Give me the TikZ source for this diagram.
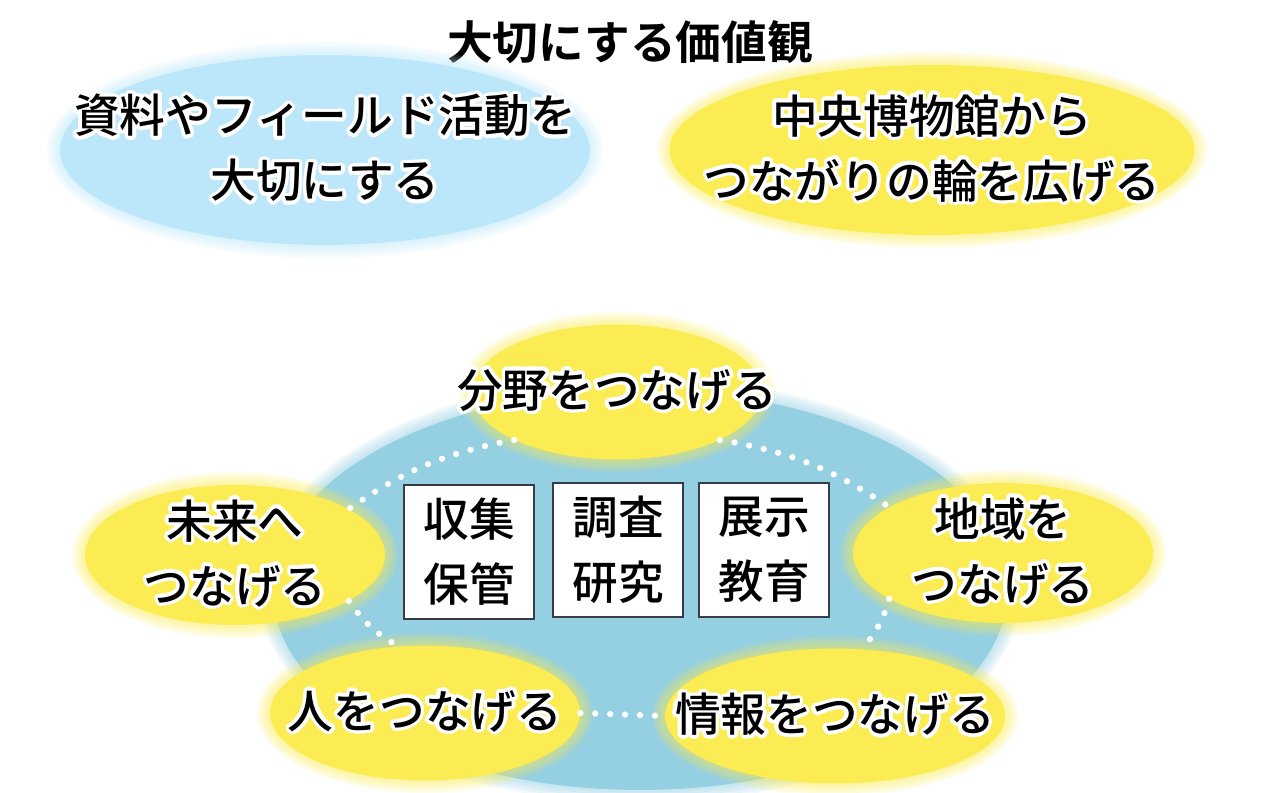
\documentclass[tikz,border=0pt]{standalone}
\usepackage{fontspec}
\setmainfont{Noto Sans CJK JP Medium}
\newfontfamily\heavyjp{Noto Sans CJK JP Bold}
\usepackage{contour}
\contourlength{2pt}
\usetikzlibrary{shapes.geometric,positioning}
\definecolor{skyLight}{RGB}{188,231,250}
\definecolor{skyMid}{RGB}{148,207,226}
\definecolor{sunYellow}{RGB}{250,236,82}
\definecolor{boxEdge}{RGB}{55,60,70}
\newcommand{\gl}[1]{\contour{white}{#1}}
% soft edge under an oval: x, y, x radius, y radius, colour
\newcommand{\softedge}[5]{%
  \foreach \k in {10,8,6,4,2}{\fill[#5,opacity=0.13] (#1,#2) ellipse ({#3+\k*1.3} and {#4+\k*1.3});}}

\begin{document}
\begin{tikzpicture}[x=0.02cm,y=-0.02cm,
  oval/.style={ellipse, inner sep=0pt},
  words/.style={align=center, font=\fontsize{26}{37}\selectfont},
  tile/.style={draw=boxEdge, line width=0.7pt, fill=white, minimum width=2.6cm, minimum height=2.68cm, inner sep=0pt, words},
  dotring/.style={white, line width=3.6pt, line cap=round, dash pattern=on 0pt off 8.5pt}]
\useasboundingbox (0,0) rectangle (1286,793);

% top values
\node[words, font=\heavyjp\fontsize{26}{37}\selectfont] (title) at (630,42) {大切にする価値観};
\softedge{325}{150}{265}{95}{skyLight}
\node[oval, fill=skyLight, minimum width=10.6cm, minimum height=3.8cm] (valueA) at (325,150) {};
\node[words] at (valueA) {\gl{資料やフィールド活動を}\\\gl{大切にする}};
\softedge{932}{150}{262}{85}{sunYellow}
\node[oval, fill=sunYellow, minimum width=10.5cm, minimum height=3.4cm] (valueB) at (932,150) {};
\node[words] at (valueB) {\gl{中央博物館から}\\\gl{つながりの輪を広げる}};

% ring of connections
\softedge{640}{590}{368}{200}{skyMid}
\node[oval, fill=skyMid, minimum width=14.7cm, minimum height=8cm] (hub) at (640,590) {};

\softedge{617}{392}{145}{67}{sunYellow}
\node[oval, fill=sunYellow, minimum width=5.8cm, minimum height=2.7cm] (field) at (617,392) {};
\node[words] at (field) {\gl{分野をつなげる}};
\softedge{235}{555}{150}{70}{sunYellow}
\node[oval, fill=sunYellow, minimum width=6cm, minimum height=2.8cm] (future) at (235,555) {};
\node[words] at (future) {\gl{未来へ}\\\gl{つなげる}};
\softedge{1003}{553}{150}{70}{sunYellow}
\node[oval, fill=sunYellow, minimum width=6cm, minimum height=2.8cm] (region) at (1003,553) {};
\node[words] at (region) {\gl{地域を}\\\gl{つなげる}};
\softedge{425}{713}{155}{67}{sunYellow}
\node[oval, fill=sunYellow, minimum width=6.2cm, minimum height=2.7cm] (people) at (425,713) {};
\node[words] at (people) {\gl{人をつなげる}};
\softedge{835}{716}{170}{67}{sunYellow}
\node[oval, fill=sunYellow, minimum width=6.8cm, minimum height=2.7cm] (info) at (835,716) {};
\node[words] at (info) {\gl{情報をつなげる}};

\draw[dotring] (field.205) to[bend right=12] (future.22);
\draw[dotring] (future.-22) to[bend right=12] (people.112);
\draw[dotring] (field.335) to[bend left=12] (region.158);
\draw[dotring] (region.202) to[bend left=12] (info.68);
\draw[dotring] (people.east) -- (info.west);

% museum work
\node[tile] (collect) at (469,552) {収集\\保管};
\node[tile] (research) at (618,550) {調査\\研究};
\node[tile] (exhibit) at (764,550) {展示\\教育};
\end{tikzpicture}
\end{document}
